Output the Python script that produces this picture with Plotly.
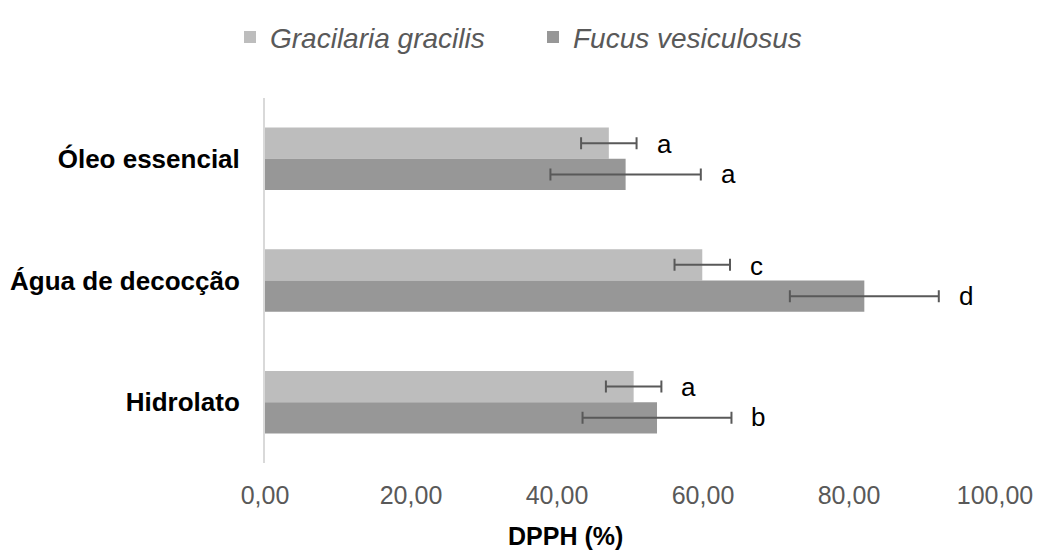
import plotly.graph_objects as go

categories = ["Óleo essencial", "Água de decocção", "Hidrolato"]
series_names = ["Gracilaria gracilis", "Fucus vesiculosus"]
gracilaria = [47.1, 59.9, 50.5]
gracilaria_err = [3.8, 3.8, 3.8]
fucus = [49.4, 82.1, 53.7]
fucus_err = [10.3, 10.2, 10.2]
gracilaria_letters = ["a", "c", "a"]
fucus_letters = ["a", "d", "b"]
x_ticks = [0, 20, 40, 60, 80, 100]
x_tick_labels = ["0,00", "20,00", "40,00", "60,00", "80,00", "100,00"]
x_title = "DPPH (%)"

colors = ["#bdbdbd", "#979797"]
err_color = "#595959"
FONT = "Liberation Sans, Arial"

W, H = 1037, 556
ML, MR, MT, MB = 265, 42, 90, 93
PW, PH = W - ML - MR, H - MT - MB

fig = go.Figure()
for name, vals, errs, col in [
    (series_names[0], gracilaria, gracilaria_err, colors[0]),
    (series_names[1], fucus, fucus_err, colors[1]),
]:
    fig.add_trace(go.Bar(
        y=categories, x=vals, orientation="h", name=name,
        marker=dict(color=col, line=dict(width=0)),
        error_x=dict(type="data", array=errs, visible=True,
                     color=err_color, thickness=2, width=6),
    ))

annotations = []
for i, cat in enumerate(categories):
    for vals, errs, letters, ysh in [
        (gracilaria, gracilaria_err, gracilaria_letters, 15),
        (fucus, fucus_err, fucus_letters, -15),
    ]:
        annotations.append(dict(
            x=vals[i] + errs[i], y=cat, text=letters[i], showarrow=False,
            xanchor="left", yanchor="middle", xshift=18, yshift=ysh,
            font=dict(family=FONT, size=26, color="#000000"),
        ))

# axis title, centred on the chart area as in the original
annotations.append(dict(
    text="<b>" + x_title + "</b>", xref="paper", yref="paper",
    x=(565 - ML) / PW, y=-(538 - (MT + PH)) / PH,
    xanchor="center", yanchor="middle",
    showarrow=False, font=dict(family=FONT, size=25, color="#000000"),
))

fig.update_layout(
    width=W, height=H,
    margin=dict(l=ML, r=MR, t=MT, b=MB, pad=0),
    paper_bgcolor="white", plot_bgcolor="white",
    barmode="group", bargap=0.486, bargroupgap=0,
    font=dict(family=FONT),
    legend=dict(
        orientation="h", x=(230 - ML) / PW, y=1 + (MT - 28) / PH,
        xanchor="left", yanchor="middle",
        font=dict(family=FONT, size=28, color="#595959", style="italic"),
        itemwidth=30, traceorder="normal", entrywidth=258,
    ),
    annotations=annotations,
    xaxis=dict(
        range=[0, 100], tickvals=x_ticks, ticktext=x_tick_labels,
        showgrid=False, zeroline=False, showline=False, ticks="",
        automargin=False,
        tickfont=dict(family=FONT, size=25, color="#595959"),
        ticklabelstandoff=15,
    ),
    yaxis=dict(
        autorange="reversed", showgrid=False, zeroline=False,
        showline=True, linecolor="#d9d9d9", linewidth=2, ticks="",
        automargin=False, ticklabelstandoff=18,
        tickfont=dict(family=FONT, size=26, color="#000000", weight="bold"),
    ),
)

fig.write_html("out.html", config={"displayModeBar": False},
               post_script="document.body.style.margin='0';")
